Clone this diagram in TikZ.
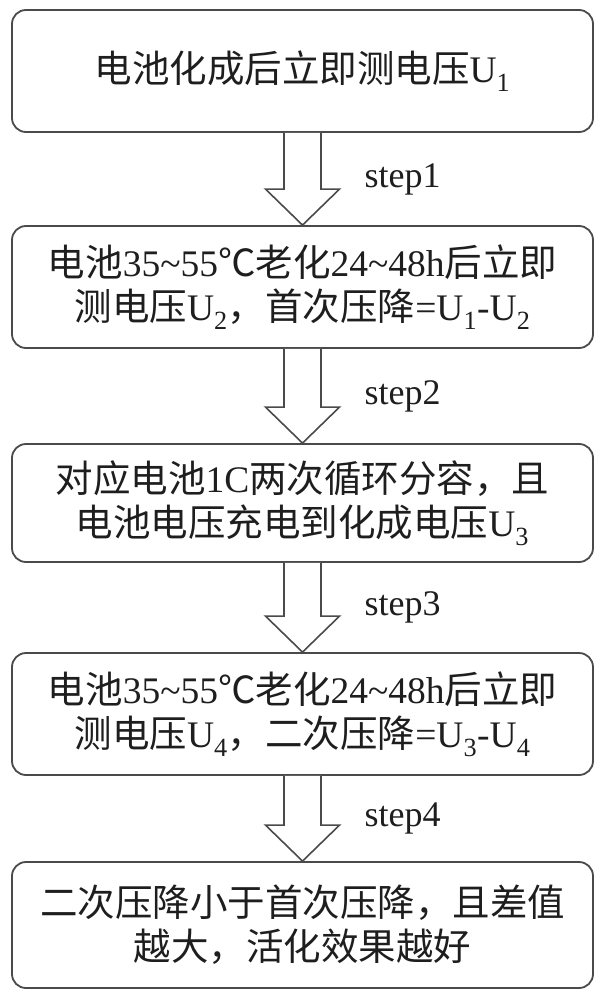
\documentclass[tikz,border=0pt]{standalone}
\usepackage{fontspec}
\setmainfont{Liberation Serif}
\newfontfamily\cjk{Noto Sans CJK SC}
\usetikzlibrary{calc}
\newcommand\tld{\textasciitilde}
\definecolor{linegray}{HTML}{4A4A4A}
\definecolor{txtgray}{HTML}{1E1E1E}
\tikzset{
  procbox/.style={draw=linegray, line width=1.8pt, rounded corners=14pt,
    minimum width=581pt, align=center, inner sep=0pt, text=txtgray,
    font=\fontsize{37.5}{44}\selectfont},
  barrow/.style={draw=linegray, line width=1.6pt, fill=white, line join=miter},
  steplbl/.style={anchor=west, inner sep=0pt, text=txtgray,
    font=\fontsize{36}{40}\selectfont}
}
\newcommand\blockarr[2]{%
  \draw[barrow] ($(#1.south)+(-18.5,0)$) -- ($(#2.north)+(-18.5,-36)$)
    -- ($(#2.north)+(-37,-36)$) -- (#2.north) -- ($(#2.north)+(37,-36)$)
    -- ($(#2.north)+(18.5,-36)$) -- ($(#1.south)+(18.5,0)$);}
\begin{document}
\begin{tikzpicture}[x=1pt,y=-1pt]
\useasboundingbox[fill=white] (0,0) rectangle (603,1000);
\node[procbox, minimum height=122pt] (b1) at (302.5,71)
  {{\cjk 电池化成后立即测电压}U\textsubscript{1}};
\node[procbox, minimum height=122pt] (b2) at (302.5,287)
  {{\cjk 电池}35\tld55{\cjk ℃老化}24\tld48h{\cjk 后立即}\\
   {\cjk 测电压}U\textsubscript{2}{\cjk ，首次压降}=U\textsubscript{1}-U\textsubscript{2}};
\node[procbox, minimum height=118pt] (b3) at (302.5,503)
  {{\cjk 对应电池}1C{\cjk 两次循环分容，且}\\
   {\cjk 电池电压充电到化成电压}U\textsubscript{3}};
\node[procbox, minimum height=122pt] (b4) at (302.5,714)
  {{\cjk 电池}35\tld55{\cjk ℃老化}24\tld48h{\cjk 后立即}\\
   {\cjk 测电压}U\textsubscript{4}{\cjk ，二次压降}=U\textsubscript{3}-U\textsubscript{4}};
\node[procbox, minimum height=126pt] (b5) at (302.5,925)
  {{\cjk 二次压降小于首次压降，且差值}\\
   {\cjk 越大，活化效果越好}};
\blockarr{b1}{b2}
\blockarr{b2}{b3}
\blockarr{b3}{b4}
\blockarr{b4}{b5}
\node[steplbl] (s1) at ($(b1.south)!0.5!(b2.north)+(62,0)$) {step1};
\node[steplbl] (s2) at ($(b2.south)!0.5!(b3.north)+(62,0)$) {step2};
\node[steplbl] (s3) at ($(b3.south)!0.5!(b4.north)+(62,0)$) {step3};
\node[steplbl] (s4) at ($(b4.south)!0.5!(b5.north)+(62,0)$) {step4};
\end{tikzpicture}
\end{document}
